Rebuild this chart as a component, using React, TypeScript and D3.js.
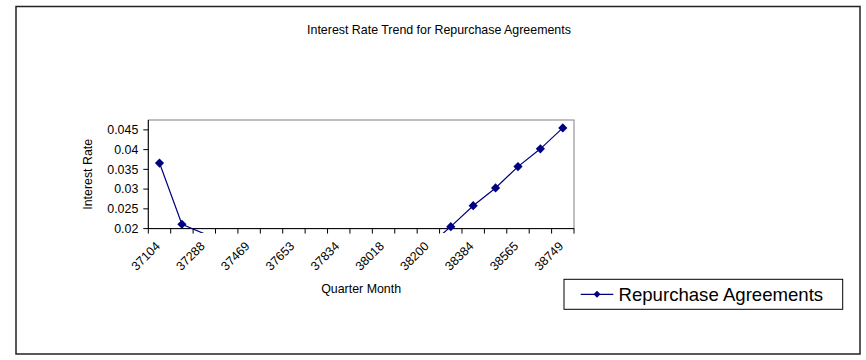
import React from "react";
import * as d3 from "d3";

// Quarter-month serial dates (spreadsheet day numbers) and repo rates
const quarterMonths: number[] = [
  37104, 37196, 37288, 37377, 37469, 37561, 37653, 37742, 37834, 37926,
  38018, 38108, 38200, 38292, 38384, 38473, 38565, 38657, 38749,
];
const repoRates: number[] = [
  0.0366, 0.0211, 0.0187, 0.0178, 0.0172, 0.0135, 0.0125, 0.0122, 0.0101, 0.0099,
  0.0099, 0.0101, 0.0156, 0.0205, 0.0258, 0.0303, 0.0357, 0.0402, 0.0455,
];
const yTicks: number[] = [0.02, 0.025, 0.03, 0.035, 0.04, 0.045];
const seriesName = "Repurchase Agreements";
const chartTitle = "Interest Rate Trend for Repurchase Agreements";
const xTitle = "Quarter Month";
const yTitle = "Interest Rate";

const W = 866;
const H = 360;
const FONT = "'Liberation Sans', Arial, sans-serif";
const NAVY = "#000080";

export default function App() {
  const plot = { left: 148.3, right: 574, top: 120, bottom: 228.6 };

  const x = d3
    .scaleBand<number>()
    .domain(quarterMonths)
    .range([plot.left, plot.right])
    .padding(0);
  const y = d3.scaleLinear().domain([0.02, 0.0475]).range([plot.bottom, plot.top]);

  const cx = (d: number) => (x(d) as number) + x.bandwidth() / 2;
  const points = quarterMonths.map((q, i) => ({ q, v: repoRates[i] }));

  const line = d3
    .line<{ q: number; v: number }>()
    .x((d) => cx(d.q))
    .y((d) => y(d.v));

  const diamond = (px: number, py: number, r: number) =>
    `M${px},${py - r}L${px + r},${py}L${px},${py + r}L${px - r},${py}Z`;

  // category boundaries for tick marks
  const boundaries = quarterMonths.map((q) => x(q) as number).concat([plot.right]);

  const legend = { x: 564, y: 279.3, w: 278.7, h: 30 };

  return (
    <svg
      width={W}
      height={H}
      style={{ position: "absolute", left: 0, top: 0, background: "#fff" }}
      fontFamily={FONT}
    >
      <defs>
        <clipPath id="plot-clip">
          <rect
            x={plot.left}
            y={plot.top - 6}
            width={plot.right - plot.left + 6}
            height={plot.bottom - plot.top + 10.5}
          />
        </clipPath>
      </defs>

      {/* chart frame */}
      <rect x={16} y={6.5} width={844} height={347.5} fill="#fff" stroke="#222" strokeWidth={1.5} />

      <text x={439} y={34} textAnchor="middle" fontSize={12.4} fill="#000">
        {chartTitle}
      </text>

      {/* plot area border */}
      <rect
        x={plot.left}
        y={plot.top}
        width={plot.right - plot.left}
        height={plot.bottom - plot.top}
        fill="#fff"
        stroke="#808080"
        strokeWidth={1}
      />

      {/* y axis */}
      <line x1={plot.left} x2={plot.left} y1={plot.top} y2={plot.bottom} stroke="#000" />
      {yTicks.map((t) => (
        <g key={t}>
          <line x1={plot.left - 5} x2={plot.left} y1={y(t)} y2={y(t)} stroke="#000" />
          <text
            x={plot.left - 10}
            y={y(t)}
            dy="0.35em"
            textAnchor="end"
            fontSize={12.4}
            fill="#000"
          >
            {String(t)}
          </text>
        </g>
      ))}
      <text
        transform={`translate(92,${(plot.top + plot.bottom) / 2}) rotate(-90)`}
        textAnchor="middle"
        fontSize={12.4}
        fill="#000"
      >
        {yTitle}
      </text>

      {/* x axis */}
      <line x1={plot.left} x2={plot.right} y1={plot.bottom} y2={plot.bottom} stroke="#000" />
      {boundaries.map((b, i) => (
        <line key={i} x1={b} x2={b} y1={plot.bottom} y2={plot.bottom + 5} stroke="#000" />
      ))}
      {quarterMonths.map((q, i) =>
        i % 2 === 0 ? (
          <text
            key={q}
            transform={`translate(${cx(q) - 4},${plot.bottom + 13}) rotate(-45)`}
            textAnchor="end"
            dy="0.6em"
            fontSize={12.4}
            fill="#000"
          >
            {String(q)}
          </text>
        ) : null
      )}
      <text x={(plot.left + plot.right) / 2} y={293} textAnchor="middle" fontSize={12.4} fill="#000">
        {xTitle}
      </text>

      {/* series */}
      <g clipPath="url(#plot-clip)">
        <path d={line(points) || ""} fill="none" stroke={NAVY} strokeWidth={1.2} />
        {points
          .filter((p) => p.v >= y.domain()[0])
          .map((p) => (
            <path key={p.q} d={diamond(cx(p.q), y(p.v), 4.6)} fill={NAVY} />
          ))}
      </g>

      {/* legend */}
      <rect
        x={legend.x}
        y={legend.y}
        width={legend.w}
        height={legend.h}
        fill="#fff"
        stroke="#000"
        strokeWidth={1}
      />
      <line
        x1={580.7}
        x2={613.3}
        y1={legend.y + legend.h / 2}
        y2={legend.y + legend.h / 2}
        stroke={NAVY}
        strokeWidth={1.2}
      />
      <path d={diamond(597, legend.y + legend.h / 2, 3.5)} fill={NAVY} />
      <text
        x={618.5}
        y={legend.y + legend.h / 2}
        dy="0.35em"
        fontSize={18.6}
        fill="#000"
      >
        {seriesName}
      </text>
    </svg>
  );
}
